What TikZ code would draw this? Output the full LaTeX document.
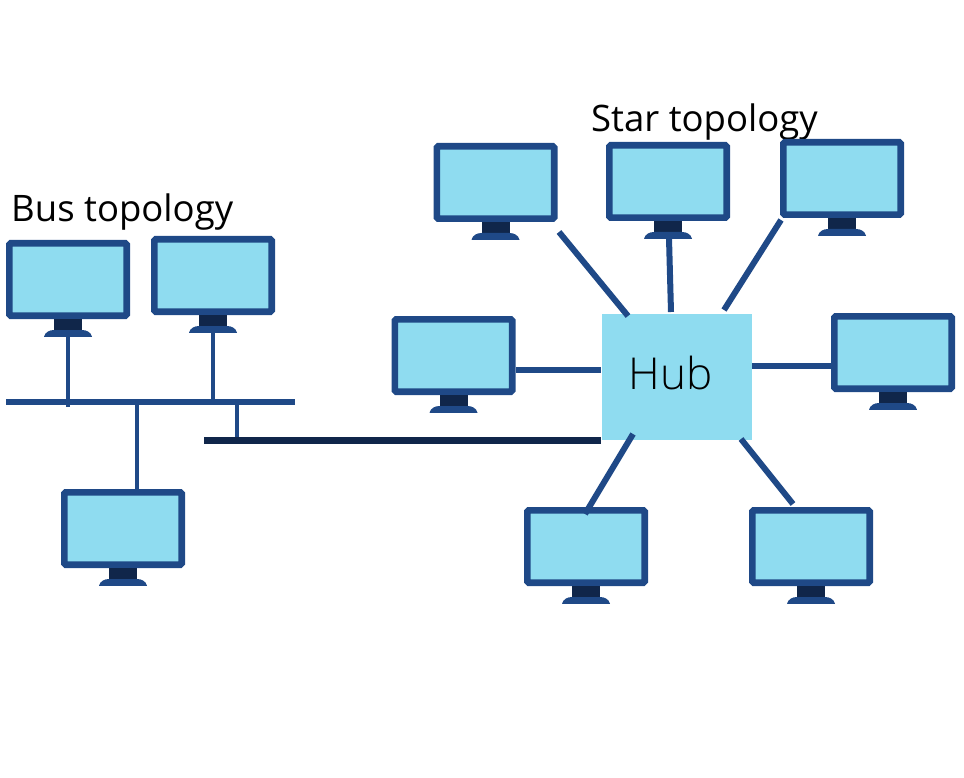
\documentclass[tikz,border=0pt]{standalone}
\usepackage{fontspec}
\usepackage{xcolor}
\usetikzlibrary{positioning}
\setmainfont{Open Sans}
\newfontfamily\hubfont{Open Sans Light}
\definecolor{monitorblue}{RGB}{31, 73, 135}
\definecolor{darknavy}{RGB}{16, 38, 74}
\definecolor{screenblue}{RGB}{143, 220, 240}

% one monitor: screen centred at (#2,#3), stand and base below it
\newcommand{\monitor}[3]{
    \node[screen] (#1) at (#2,#3) {};
    \node[stand, below=0pt of #1] (#1stand) {};
    \fill[monitorblue] (#2-24,#3+57.3) .. controls (#2-23,#3+53) and (#2-19,#3+50.5) .. (#2-14,#3+50.5) -- (#2+14,#3+50.5) .. controls (#2+19,#3+50.5) and (#2+23,#3+53) .. (#2+24,#3+57.3) -- cycle;
    \coordinate (#1base) at (#2,#3+57);
}

\begin{document}
\begin{tikzpicture}[
    x=1pt, y=-1pt,
    screen/.style={rectangle, draw=monitorblue, fill=screenblue, line width=6.6pt, minimum width=117.4pt, minimum height=72.4pt, rounded corners=1.5pt, inner sep=0pt},
    stand/.style={rectangle, fill=darknavy, minimum width=28pt, minimum height=11.5pt, inner sep=0pt},
    hubbox/.style={rectangle, fill=screenblue, minimum width=150pt, minimum height=126pt, inner sep=0pt},
    title/.style={anchor=base west, font=\fontsize{36.5}{40}\selectfont, inner sep=0pt},
    buslink/.style={monitorblue, line width=3.5pt},
    starlink/.style={monitorblue, line width=6pt},
    busline/.style={monitorblue, line width=5.5pt},
    trunk/.style={darknavy, line width=6.5pt}
]
\useasboundingbox (0,0) rectangle (964,778);

\node[title] (bustitle) at (11,222) {Bus topology};
\node[title] (startitle) at (591,132) {Star topology};

% bus side
\monitor{busa}{68}{279.5}
\monitor{busb}{213}{275.5}
\monitor{busc}{123}{528.5}

\coordinate (busleft) at (6,402);
\coordinate (busright) at (295,402);
\coordinate (busajoin) at (68,407);
\coordinate (busbjoin) at (213,402);
\coordinate (buscjoin) at (137,402);
\coordinate (buscend) at (137,489);
\coordinate (trunkjoin) at (237,402);
\coordinate (trunkdrop) at (237,440);
\coordinate (trunkstart) at (204,440.5);
\coordinate (trunkend) at (601,440.5);

\draw[busline] (busleft) -- (busright);
\draw[buslink] (busabase) -- (busajoin);
\draw[buslink] (busbbase) -- (busbjoin);
\draw[buslink] (buscjoin) -- (buscend);
\draw[buslink] (trunkjoin) -- (trunkdrop);
\draw[trunk] (trunkstart) -- (trunkend);

% star side
\node[hubbox] (hub) at (677,377) {};
\node[font=\fontsize{44}{48}\hubfont, inner sep=0pt, anchor=base] (hublabel) at (670.5,389.5) {Hub};

\monitor{tleft}{495.5}{182.5}
\monitor{tmid}{668}{181.5}
\monitor{tright}{842}{178.5}
\monitor{left}{453.5}{355.5}
\monitor{right}{893}{352.5}
\monitor{bleft}{586}{546.5}
\monitor{bright}{811}{546.5}

\coordinate (tleftend) at (559,232);
\coordinate (hubtleft) at (628,316);
\coordinate (tmidend) at (669,238);
\coordinate (hubtmid) at (671,312);
\coordinate (trightend) at (781,220);
\coordinate (hubtright) at (724,310);
\coordinate (leftend) at (516,370);
\coordinate (hubleft) at (601,370);
\coordinate (rightend) at (831,366);
\coordinate (hubright) at (752,366);
\coordinate (bleftend) at (585,514);
\coordinate (hubbleft) at (633,434);
\coordinate (brightend) at (793,504);
\coordinate (hubbright) at (741,439);

\draw[starlink] (tleftend) -- (hubtleft);
\draw[starlink] (tmidend) -- (hubtmid);
\draw[starlink] (trightend) -- (hubtright);
\draw[starlink] (leftend) -- (hubleft);
\draw[starlink] (rightend) -- (hubright);
\draw[starlink] (bleftend) -- (hubbleft);
\draw[starlink] (brightend) -- (hubbright);

\end{tikzpicture}
\end{document}
